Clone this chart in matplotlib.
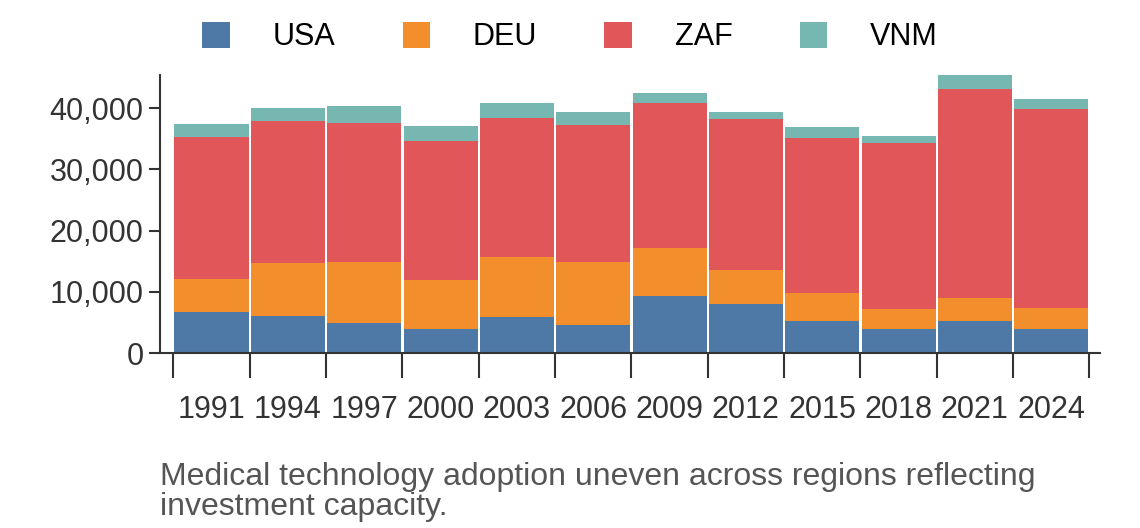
import numpy as np
import matplotlib.pyplot as plt

years = ["1991", "1994", "1997", "2000", "2003", "2006", "2009", "2012", "2015", "2018", "2021", "2024"]
usa = [6700, 6040, 4900, 3920, 5880, 4570, 9310, 8000, 5220, 3920, 5220, 3920]
deu = [5380, 8650, 9960, 8000, 9790, 10290, 7830, 5550, 4580, 3260, 3760, 3430]
zaf = [23190, 23190, 22690, 22690, 22700, 22360, 23680, 24650, 25300, 27110, 34120, 32490]
vnm = [2120, 2120, 2780, 2450, 2450, 2130, 1630, 1150, 1800, 1140, 2450, 1630]

colors = ["#4e79a7", "#f28e2b", "#e15759", "#76b7b2"]
names = ["USA", "DEU", "ZAF", "VNM"]

plt.rcParams['font.family'] = ['Liberation Sans', 'DejaVu Sans']
fig = plt.figure(figsize=(11.4, 5.28), dpi=100)
ax = fig.add_axes([0.14, 0.331, 0.825, 0.527])

x = np.arange(len(years))
bottom = np.zeros(len(years))
for vals, c, n in zip([usa, deu, zaf, vnm], colors, names):
    ax.bar(x, vals, width=0.97, bottom=bottom, color=c, label=n)
    bottom += np.array(vals)

ax.set_xlim(-0.68, 11.64)
ax.set_ylim(0, (353 - 75) / 61.25 * 10000)
ax.set_yticks([0, 10000, 20000, 30000, 40000])
ax.set_yticklabels(["0", "10,000", "20,000", "30,000", "40,000"])
ax.set_xticks(np.arange(len(years) + 1) - 0.5)
ax.set_xticklabels([])
ax.set_xticks(x, minor=True)
ax.set_xticklabels(years, minor=True)
ax.tick_params(axis='x', which='major', length=18, width=1.5, color='#333333')
ax.tick_params(axis='x', which='minor', length=0, pad=30, labelsize=22, labelcolor='#333333')
ax.tick_params(axis='y', length=8, width=1.5, labelsize=22, labelcolor='#333333', color='#333333')
for s in ['top', 'right']:
    ax.spines[s].set_visible(False)
for s in ['left', 'bottom']:
    ax.spines[s].set_linewidth(1.5)
    ax.spines[s].set_color('#333333')

fig.legend(loc='upper center', bbox_to_anchor=(0.5, 1.01), ncol=4, frameon=False,
           fontsize=22, handlelength=0.9, handleheight=0.9, columnspacing=2.2, handletextpad=1.4)
fig.text(0.14, 0.025, "Medical technology adoption uneven across regions reflecting\ninvestment capacity.",
         fontsize=23, color='#555555', linespacing=1.0)

fig.savefig("out.png", dpi=100)
